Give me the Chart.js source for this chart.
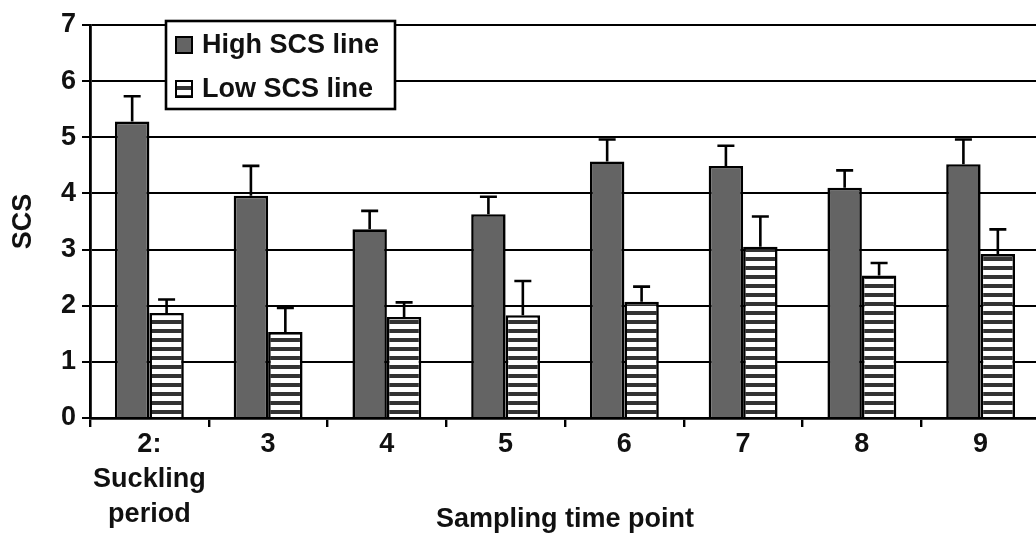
<!DOCTYPE html>
<html>
<head>
<meta charset="utf-8">
<script src="https://cdn.jsdelivr.net/npm/chart.js@4.4.1/dist/chart.umd.min.js"></script>
<style>
  html, body { margin: 0; padding: 0; background: #fff; overflow: hidden; }
  #wrap { width: 1040px; height: 538px; position: relative; }
</style>
</head>
<body>
<div id="wrap"><canvas id="scs-chart"></canvas></div>
<script>
// data
const categories = [["2:", "Suckling", "period"], "3", "4", "5", "6", "7", "8", "9"];
const highMeans = [5.28, 3.96, 3.36, 3.63, 4.57, 4.49, 4.10, 4.52];
const highSE    = [0.45, 0.53, 0.33, 0.31, 0.39, 0.36, 0.31, 0.44];
const lowMeans  = [1.87, 1.53, 1.80, 1.83, 2.07, 3.05, 2.54, 2.92];
const lowSE     = [0.24, 0.43, 0.26, 0.61, 0.27, 0.54, 0.22, 0.44];
const yTicks    = [0, 1, 2, 3, 4, 5, 6, 7];

const FONT = "'Liberation Sans', Arial, Helvetica, sans-serif";
const INK = "#111";

// horizontal stripe fill for the low line
function stripes() {
  const c = document.createElement("canvas");
  c.width = 8; c.height = 9;
  const g = c.getContext("2d");
  g.fillStyle = "#fff";
  g.fillRect(0, 0, 8, 9);
  g.fillStyle = "#333";
  g.fillRect(0, 5, 8, 4);
  return g.createPattern(c, "repeat");
}
const stripeFill = stripes();

const errorBars = {
  id: "errorBars",
  afterDatasetsDraw(chart) {
    const ctx = chart.ctx;
    const y = chart.scales.y;
    ctx.save();
    ctx.strokeStyle = "#000";
    ctx.lineWidth = 2.6;
    chart.data.datasets.forEach((ds, i) => {
      chart.getDatasetMeta(i).data.forEach((bar, j) => {
        const top = y.getPixelForValue(ds.data[j] + ds.se[j]);
        ctx.beginPath();
        ctx.moveTo(bar.x, bar.y);
        ctx.lineTo(bar.x, top);
        ctx.moveTo(bar.x - 8.5, top);
        ctx.lineTo(bar.x + 8.5, top);
        ctx.stroke();
      });
    });
    ctx.restore();
  }
};

const boxLegend = {
  id: "boxLegend",
  afterDraw(chart) {
    const ctx = chart.ctx;
    const a = chart.chartArea;
    const x0 = a.left + 76, y0 = a.top - 4;
    ctx.save();
    ctx.fillStyle = "#fff";
    ctx.fillRect(x0, y0, 229, 88);
    ctx.strokeStyle = "#000";
    ctx.lineWidth = 2.6;
    ctx.strokeRect(x0, y0, 229, 88);
    ctx.font = "bold 27px " + FONT;
    ctx.textBaseline = "middle";
    chart.data.datasets.forEach((ds, i) => {
      const cy = y0 + 24 + i * 44;
      ctx.fillStyle = ds.backgroundColor;
      ctx.fillRect(x0 + 10, cy - 8, 16, 16);
      ctx.lineWidth = 2;
      ctx.strokeRect(x0 + 10, cy - 8, 16, 16);
      ctx.fillStyle = INK;
      ctx.fillText(ds.label, x0 + 36, cy + 1);
    });
    ctx.restore();
  }
};

new Chart(document.getElementById("scs-chart"), {
  type: "bar",
  data: {
    labels: categories,
    datasets: [
      { label: "High SCS line", data: highMeans, se: highSE,
        backgroundColor: "#646464", borderColor: "#000", borderWidth: 2.6 },
      { label: "Low SCS line", data: lowMeans, se: lowSE,
        backgroundColor: stripeFill, borderColor: "#000", borderWidth: 2.6 }
    ]
  },
  options: {
    responsive: true,
    maintainAspectRatio: false,
    animation: false,
    devicePixelRatio: 1,
    layout: { padding: { top: 25, left: 0, right: 0, bottom: 0 } },
    categoryPercentage: 0.58,
    barPercentage: 1.0,
    plugins: { legend: { display: false }, tooltip: { enabled: false } },
    scales: {
      x: {
        grid: { offset: true, drawOnChartArea: false, color: "#000", lineWidth: 2.4, tickLength: 9 },
        border: { color: "#000", width: 2.8 },
        ticks: { color: INK, padding: 0, maxRotation: 0, autoSkip: false,
                 font: { family: FONT, size: 27, weight: "bold", lineHeight: 1.3 } },
        title: { display: true, text: "Sampling time point", color: INK,
                 font: { family: FONT, size: 27, weight: "bold" }, padding: { top: 0, bottom: 2 } },
        afterFit: s => { s.height = 120; }
      },
      y: {
        min: 0, max: 7,
        afterBuildTicks: s => { s.ticks = yTicks.map(v => ({ value: v })); },
        ticks: { color: INK, padding: 6, font: { family: FONT, size: 27, weight: "bold" } },
        grid: { color: "#000", lineWidth: 2, tickLength: 8 },
        border: { color: "#000", width: 2.8 },
        title: { display: true, text: "SCS", color: INK,
                 font: { family: FONT, size: 27, weight: "bold" }, padding: { top: 7, bottom: 0 } },
        afterFit: s => { s.width = 90; }
      }
    }
  },
  plugins: [errorBars, boxLegend]
});
</script>
</body>
</html>
